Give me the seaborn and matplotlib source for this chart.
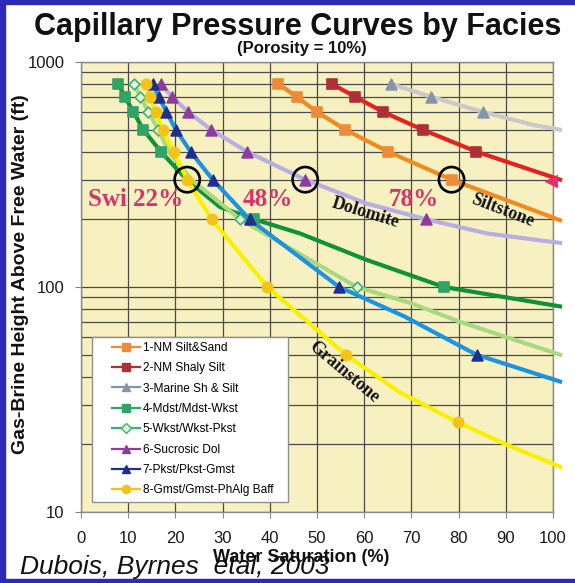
import matplotlib
matplotlib.use("Agg")
import matplotlib.pyplot as plt
from matplotlib.lines import Line2D
from matplotlib.patches import Rectangle
from matplotlib.ticker import FixedLocator, NullFormatter
import numpy as np
import pandas as pd
import seaborn as sns

# ---- facies names ----
facies = ["1-NM Silt&Sand", "2-NM Shaly Silt", "3-Marine Sh & Silt", "4-Mdst/Mdst-Wkst",
          "5-Wkst/Wkst-Pkst", "6-Sucrosic Dol", "7-Pkst/Pkst-Gmst", "8-Gmst/Gmst-PhAlg Baff"]

# ---- measured points (water saturation %, height ft) ----
pts_sw = {
    facies[0]: [41.8, 45.7, 50.0, 56.0, 65.0, 78.5],
    facies[1]: [53.1, 58.1, 64.0, 72.4, 83.7],
    facies[2]: [65.6, 74.2, 85.2],
    facies[3]: [7.9, 9.3, 11.1, 13.2, 16.9, 36.7, 76.9],
    facies[4]: [11.2, 12.6, 14.3, 16.4, 33.7, 58.4],
    facies[5]: [16.9, 19.3, 22.7, 27.6, 35.1, 47.5, 73.1],
    facies[6]: [15.2, 16.5, 18.1, 20.1, 23.2, 27.9, 35.7, 54.7, 83.8],
    facies[7]: [13.7, 14.6, 15.9, 17.3, 19.6, 22.5, 27.7, 39.5, 56.1, 79.9],
}
pts_h = {
    facies[0]: [800, 700, 600, 500, 400, 300],
    facies[1]: [800, 700, 600, 500, 400],
    facies[2]: [800, 700, 600],
    facies[3]: [800, 700, 600, 500, 400, 200, 100],
    facies[4]: [800, 700, 600, 500, 200, 100],
    facies[5]: [800, 700, 600, 500, 400, 300, 200],
    facies[6]: [800, 700, 600, 500, 400, 300, 200, 100, 50],
    facies[7]: [800, 700, 600, 500, 400, 300, 200, 100, 50, 25],
}

# ---- fitted curves (water saturation %, height ft) ----
curve_sw = {
    facies[0]: [41.8, 45.7, 50.0, 56.0, 65.0, 78.5, 90.2, 101.5],
    facies[1]: [53.1, 58.1, 64.0, 72.4, 83.7, 101.5],
    facies[2]: [65.6, 74.2, 85.2, 95.8, 101.5],
    facies[3]: [7.9, 9.3, 11.1, 13.2, 16.9, 22.4, 29.4, 36.7, 46.4, 60.5, 76.9, 101.5],
    facies[4]: [11.2, 12.6, 14.3, 16.4, 18.6, 23.4, 33.7, 58.4, 69.7, 80.3, 101.5],
    facies[5]: [16.9, 19.3, 22.7, 27.6, 35.1, 47.5, 60.5, 73.1, 86.0, 101.5],
    facies[6]: [15.2, 16.5, 18.1, 20.1, 23.2, 27.9, 35.7, 54.7, 68.5, 83.8, 101.5],
    facies[7]: [13.7, 14.6, 15.9, 17.3, 19.6, 22.5, 27.7, 39.5, 46.4, 56.1, 67.6, 79.9, 90.2, 101.5],
}
curve_h = {
    facies[0]: [800, 700, 600, 500, 400, 300, 243, 198],
    facies[1]: [800, 700, 600, 500, 400, 300],
    facies[2]: [800, 700, 600, 525, 500],
    facies[3]: [800, 700, 600, 500, 400, 300, 227, 200, 173, 132, 100, 82],
    facies[4]: [800, 700, 600, 500, 400, 300, 200, 100, 85, 70, 50],
    facies[5]: [800, 700, 600, 500, 400, 300, 235, 200, 173, 157],
    facies[6]: [800, 700, 600, 500, 400, 300, 200, 100, 74, 50, 38],
    facies[7]: [800, 700, 600, 500, 400, 300, 200, 100, 75, 50, 34, 25, 19.9, 15.9],
}

# ---- Swi picks and labels ----
swi_sw = [22.5, 47.5, 78.5]
swi_h = [300, 300, 300]
swi_text = ["Swi 22%", "48%", "78%"]
swi_text_sw = [11.5, 39.5, 70.5]

# ---- styles ----
line_colors = ["#f28a1e", "#e3231f", "#c9c9c9", "#0f9137", "#a9d97e", "#b9aee3", "#1b93e0", "#f9f000"]
mark_colors = ["#ee8a3a", "#b02f35", "#8595a8", "#2fa466", "#37b474", "#8e3b9c", "#1f2f8f", "#f2c418"]
mark_faces = ["#ee8a3a", "#b02f35", "#8595a8", "#2fa466", "#e6f3d8", "#8e3b9c", "#1f2f8f", "#f2c418"]
mark_shapes = ["s", "s", "^", "s", "D", "^", "^", "o"]
mark_sizes = [48, 48, 60, 48, 30, 60, 60, 55]

W, H = 575, 583
fig = plt.figure(figsize=(W / 100, H / 100), dpi=100)
fig.patch.set_facecolor("white")
plt.rcParams["font.family"] = ["Liberation Sans", "DejaVu Sans"]

ax = fig.add_axes([81 / W, 71 / H, 472 / W, 450 / H])
ax.set_facecolor("#f7f1c2")

curves = pd.concat(
    [pd.DataFrame({"Sw": curve_sw[f], "Height": curve_h[f], "Facies": f}) for f in facies],
    ignore_index=True)
points = pd.concat(
    [pd.DataFrame({"Sw": pts_sw[f], "Height": pts_h[f], "Facies": f}) for f in facies],
    ignore_index=True)

for i, f in enumerate(facies):
    sub = curves[curves["Facies"] == f]
    sns.lineplot(data=sub, x="Sw", y="Height", sort=False, estimator=None, color=line_colors[i],
                 linewidth=3.0, ax=ax, legend=False, clip_on=False, zorder=3 + i * 0.1)
for i, f in enumerate(facies):
    sub = points[points["Facies"] == f]
    sns.scatterplot(data=sub, x="Sw", y="Height", marker=mark_shapes[i], s=mark_sizes[i],
                    color=mark_faces[i], edgecolor=mark_colors[i], linewidth=1.2,
                    ax=ax, legend=False, zorder=4 + i * 0.1)

# end marker of the shaly silt curve at the right edge
ax.scatter([99.6], [297], marker="<", s=70, color="#e2306b", zorder=4.5, clip_on=False)

# Swi circles and labels
ax.scatter(swi_sw, swi_h, s=330, facecolors="none", edgecolors="black", linewidths=1.9, zorder=6)
for sw, txt in zip(swi_text_sw, swi_text):
    ax.text(sw, 276, txt, ha="center", va="top", fontsize=18, fontweight="bold",
            family="Liberation Serif", color="#d8336b", zorder=7)

# curve names
ax.text(60.3, 214, "Dolomite", rotation=-17, ha="center", va="center", fontsize=13,
        fontweight="bold", family="Liberation Serif", color="#111111", zorder=7)
ax.text(89.2, 218, "Siltstone", rotation=-21, ha="center", va="center", fontsize=13,
        fontweight="bold", family="Liberation Serif", color="#111111", zorder=7)
ax.text(55.8, 42, "Grainstone", rotation=-40, ha="center", va="center", fontsize=13,
        fontweight="bold", family="Liberation Serif", color="#111111", zorder=7)

ax.set_yscale("log")
ax.set_xlim(0, 100)
ax.set_ylim(10, 1000)
ax.set_xticks(np.arange(0, 101, 10))
ax.set_yticks([10, 100, 1000])
ax.set_yticklabels(["10", "100", "1000"])
ax.yaxis.set_minor_locator(FixedLocator([v * d for d in (10, 100) for v in range(2, 10)]))
ax.yaxis.set_minor_formatter(NullFormatter())
ax.grid(True, which="major", color="#4a4a4a", linewidth=0.9, zorder=1)
ax.grid(True, which="minor", axis="y", color="#4a4a4a", linewidth=0.9, zorder=1)
ax.set_axisbelow(True)
ax.tick_params(axis="both", which="major", labelsize=12, length=4, color="#888888",
               labelcolor="#1a1a1a")
ax.tick_params(axis="x", pad=10)
ax.tick_params(axis="y", pad=8)
ax.tick_params(axis="y", which="minor", length=0)
for sp in ax.spines.values():
    sp.set_color("#8a8a8a")
    sp.set_linewidth(1.0)
ax.set_xlabel("")
ax.set_ylabel("")

# legend: white panel with the entries placed inside it
ax.add_patch(Rectangle((0.0233, 0.0222), 0.4153, 0.3667, transform=ax.transAxes,
                       facecolor="white", edgecolor="#909090", linewidth=1.0, zorder=8))
handles = [Line2D([0], [0], color=mark_colors[i], linewidth=1.6, marker=mark_shapes[i],
                  markersize=6 if mark_shapes[i] != "D" else 5,
                  markerfacecolor=mark_faces[i], markeredgecolor=mark_colors[i])
           for i in range(len(facies))]
leg = ax.legend(handles, facies, loc="upper left", bbox_to_anchor=(0.066, 0.378),
                borderaxespad=0, borderpad=0, fontsize=8.6, frameon=False,
                handlelength=2.3, labelspacing=0.7, handletextpad=0.25)
leg.set_zorder(9)

# titles and axis labels
fig.text(298 / W, 1 - 35 / H, "Capillary Pressure Curves by Facies", ha="center", va="baseline",
         fontsize=22, fontweight="bold", color="#111111")
fig.text(302 / W, 1 - 53 / H, "(Porosity = 10%)", ha="center", va="baseline",
         fontsize=12, fontweight="bold", color="#111111")
fig.text(21 / W, 1 - 274 / H, "Gas-Brine Height Above Free Water (ft)", rotation=90,
         ha="center", va="center", fontsize=14, fontweight="bold", color="#111111")
fig.text(301 / W, 1 - 557 / H, "Water Saturation (%)", ha="center", va="center",
         fontsize=13, fontweight="bold", color="#111111")
fig.text(20 / W, 1 - 567 / H, "Dubois, Byrnes  etal, 2003", ha="left", va="center",
         fontsize=19, fontstyle="italic", color="#111111")

# blue frame
blue = "#2b2bb5"
fig.patches.append(Rectangle((0, 0), 5 / W, 1, transform=fig.transFigure, color=blue))
fig.patches.append(Rectangle((0, 1 - 4 / H), 1, 4 / H, transform=fig.transFigure, color=blue))
fig.patches.append(Rectangle((0, 0), 1, 4 / H, transform=fig.transFigure, color=blue))

fig.savefig("out.png", dpi=100)
